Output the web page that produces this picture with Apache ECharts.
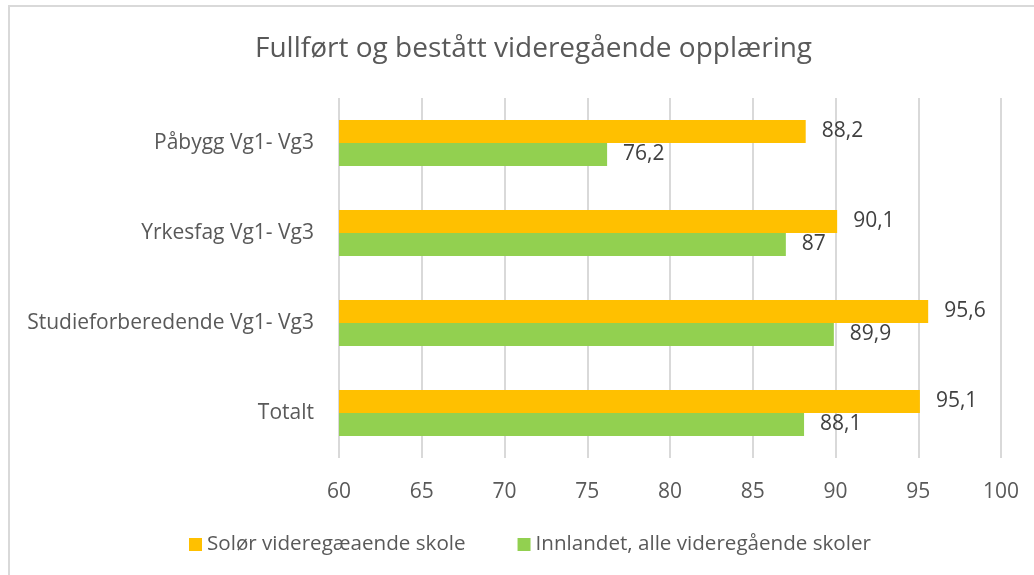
<!DOCTYPE html>
<html>
<head>
<meta charset="utf-8">
<title>Fullført og bestått videregående opplæring</title>
<script src="https://cdn.jsdelivr.net/npm/echarts@6/dist/echarts.min.js"></script>
<style>
  html, body { margin: 0; padding: 0; background: #fff; }
  #frame {
    position: absolute; left: 8px; top: 5px; width: 1040px; height: 580px;
    border-top: 2px solid #d9d9d9; border-left: 2px solid #d9d9d9;
    box-sizing: border-box; pointer-events: none;
  }
  #chart { width: 1034px; height: 575px; }
</style>
</head>
<body>
<div id="chart"></div>
<div id="frame"></div>
<script>
// categories listed bottom to top (ECharts category y axis starts at bottom)
const categories = ['Totalt', 'Studieforberedende Vg1- Vg3', 'Yrkesfag Vg1- Vg3', 'Påbygg Vg1- Vg3']
const solorValues = [95.1, 95.6, 90.1, 88.2]
const innlandetValues = [88.1, 89.9, 87, 76.2]
const seriesNames = ['Solør videregæaende skole', 'Innlandet, alle videregående skoler']
const xTicks = [60, 65, 70, 75, 80, 85, 90, 95, 100]

const fmt = (v) => String(v).replace('.', ',')
const font = 'Open Sans'

const chart = echarts.init(document.getElementById('chart'))

const labelStyle = {
  show: true,
  position: 'right',
  distance: 16,
  color: '#404040',
  fontSize: 21,
  fontFamily: font,
  formatter: (p) => fmt(p.value)
}

chart.setOption({
  animation: false,
  title: {
    text: 'Fullført og bestått videregående opplæring',
    left: 250,
    top: 30,
    textStyle: { color: '#595959', fontSize: 28, fontWeight: 'normal', fontFamily: font }
  },
  legend: {
    data: seriesNames,
    bottom: 15,
    left: 184,
    itemGap: 52,
    itemWidth: 13,
    itemHeight: 13,
    icon: 'rect',
    textStyle: { color: '#595959', fontSize: 20.6, fontFamily: font }
  },
  grid: { left: 339, right: 33, top: 98, bottom: 117 },
  xAxis: {
    type: 'value',
    min: xTicks[0],
    max: xTicks[xTicks.length - 1],
    interval: 5,
    axisLine: { show: false },
    axisTick: { show: false },
    axisLabel: { color: '#595959', fontSize: 21, fontFamily: font, margin: 24 },
    splitLine: { lineStyle: { color: '#d9d9d9', width: 2 } }
  },
  yAxis: {
    type: 'category',
    data: categories,
    axisLine: { show: false },
    axisTick: { show: false },
    axisLabel: { color: '#595959', fontSize: 21, fontFamily: font, margin: 25 }
  },
  series: [
    {
      name: seriesNames[0],
      type: 'bar',
      data: solorValues,
      barWidth: 23,
      barGap: '0%',
      itemStyle: { color: '#ffc000' },
      label: labelStyle
    },
    {
      name: seriesNames[1],
      type: 'bar',
      data: innlandetValues,
      barWidth: 23,
      barGap: '0%',
      itemStyle: { color: '#92d050' },
      label: labelStyle
    }
  ]
})
</script>
</body>
</html>
